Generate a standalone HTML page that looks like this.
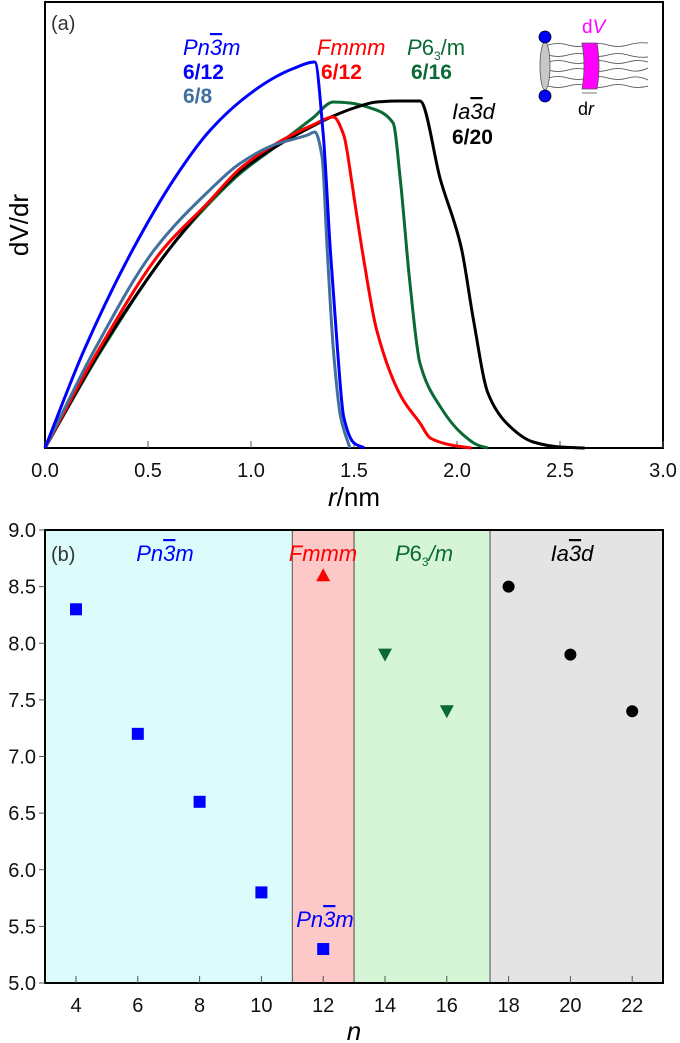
<!DOCTYPE html>
<html><head><meta charset="utf-8"><style>
html,body{margin:0;padding:0;background:#fff;}
svg{display:block;font-family:"Liberation Sans",Arial,sans-serif;}
</style></head><body>
<svg id="fig" width="680" height="1043" viewBox="0 0 680 1043" xmlns="http://www.w3.org/2000/svg">
<g id="panelA"></g>
<g id="panelB"></g>
</svg>
<script>
// ---------- Panel (a) data (r in nm, dV/dr in arbitrary units) ----------
const xTicksA = [0, 0.5, 1.0, 1.5, 2.0, 2.5, 3.0];
const xTickLabelsA = ["0.0","0.5","1.0","1.5","2.0","2.5","3.0"];
const pn3m12R = [0,0.19,0.425,0.63,0.79,0.95,1.11,1.2,1.31,1.35,1.385,1.42,1.45,1.50,1.55];
const pn3m12V = [0,98,198,270,315,347,370,379,386,315,198,98,31,5,0];
const pn3m8R = [0,0.24,0.53,0.79,0.95,1.11,1.275,1.31,1.345,1.37,1.40,1.435,1.48];
const pn3m8V = [0,98,198,256,285,303,313,316,291,198,98,31,0];
const fmmmR = [0,0.26,0.57,0.79,0.95,1.11,1.3,1.40,1.45,1.49,1.50,1.55,1.61,1.73,1.82,1.87,1.97,2.07];
const fmmmV = [0,98,198,245,280,303,323,331,313,265,251,185,118,51,25,10,3,0];
const p63mR = [0,0.275,0.6,0.79,0.95,1.11,1.3,1.40,1.48,1.58,1.69,1.725,1.77,1.82,1.92,2.02,2.10,2.15];
const p63mV = [0,98,198,243,275,300,330,346,345,340,325,268,168,85,41,15,3,0];
const ia3dR = [0,0.27,0.6,0.79,0.95,1.11,1.3,1.4,1.5,1.61,1.72,1.82,1.92,2.02,2.08,2.15,2.24,2.37,2.50,2.62];
const ia3dV = [0,98,198,245,277,300,322,332,340,346,347,347,268,201,128,55,25,6,1,0];

// ---------- Panel (b) data ----------
const xTicksB = [4,6,8,10,12,14,16,18,20,22];
const yTicksB = [5.0,5.5,6.0,6.5,7.0,7.5,8.0,8.5,9.0];
const yTickLabelsB = ["5.0","5.5","6.0","6.5","7.0","7.5","8.0","8.5","9.0"];
const regionStarts = [3, 11, 13, 17.4];
const regionEnds = [11, 13, 17.4, 23.2];
const pn3mN = [4,6,8,10,12];
const pn3mVal = [8.3,7.2,6.6,5.8,5.3];
const fmmmN = [12];
const fmmmVal = [8.6];
const p63N = [14,16];
const p63Val = [7.9,7.4];
const ia3dN = [18,20,22];
const ia3dVal = [8.5,7.9,7.4];

const NS = "http://www.w3.org/2000/svg";
function mk(tag, attrs, parent){ const e=document.createElementNS(NS,tag); for(const k in attrs) e.setAttribute(k,attrs[k]); parent.appendChild(e); return e; }
const A = document.getElementById('panelA');
const B = document.getElementById('panelB');

const ax = { l:45, r:663, t:2, b:448, xmin:0, xmax:3.0 };
const xA = r => ax.l + (r-ax.xmin)/(ax.xmax-ax.xmin)*(ax.r-ax.l);
const yA = v => ax.b - v;

function monoPath(X,Y){
  const n=X.length, d=[], m=new Array(n);
  for(let i=0;i<n-1;i++) d.push((Y[i+1]-Y[i])/(X[i+1]-X[i]));
  m[0]=d[0]; m[n-1]=d[n-2];
  for(let i=1;i<n-1;i++){
    if(d[i-1]*d[i]<=0) m[i]=0;
    else { const w1=2*(X[i+1]-X[i])+(X[i]-X[i-1]), w2=(X[i+1]-X[i])+2*(X[i]-X[i-1]); m[i]=(w1+w2)/(w1/d[i-1]+w2/d[i]); }
  }
  let s='M'+X[0]+','+Y[0];
  for(let i=0;i<n-1;i++){
    const h=(X[i+1]-X[i])/3;
    s+=' C'+(X[i]+h)+','+(Y[i]+m[i]*h)+' '+(X[i+1]-h)+','+(Y[i+1]-m[i+1]*h)+' '+X[i+1]+','+Y[i+1];
  }
  return s;
}

let frameA = mk('rect',{x:ax.l,y:ax.t,width:ax.r-ax.l,height:ax.b-ax.t,fill:'#fff',stroke:'#000','stroke-width':2},A);


xTicksA.forEach((t,i)=>{
  const tk = mk('line',{x1:xA(t),x2:xA(t),y1:ax.b,y2:ax.b-7,stroke:'#555','stroke-width':1},A);
  
  
  const tl = mk('text',{x:xA(t),y:477,'font-size':20,'text-anchor':'middle',fill:'#111'},A);
  tl.textContent = xTickLabelsA[i];
  
  
});
function series(R,V,color,name,w){
  const p = mk('path',{d:monoPath(R.map(xA),V.map(yA)),fill:'none',stroke:color,'stroke-width':w||3,'stroke-linejoin':'round'},A);
  
  
}
series(p63mR,p63mV,'#0a6a35','line-p63m-6-16');
series(ia3dR,ia3dV,'#000','line-ia3d-6-20');
series(fmmmR,fmmmV,'#ff0000','line-fmmm-6-12');
series(pn3m8R,pn3m8V,'#41709e','line-pn3m-6-8');
series(pn3m12R,pn3m12V,'#0000ff','line-pn3m-6-12');
</script>
<script>
(function(){
const A = document.getElementById('panelA');
A.insertAdjacentHTML('beforeend', `
<text x="51" y="30" font-size="20" fill="#333">(a)</text>
<text transform="translate(28,225) rotate(-90)" font-size="26" text-anchor="middle" fill="#000">dV/dr</text>
<text x="354" y="506" font-size="26" text-anchor="middle" fill="#000"><tspan font-style="italic">r</tspan>/nm</text>
<text x="183" y="55" font-size="22" font-style="italic" fill="#0000ff">Pn<tspan text-decoration="overline">3</tspan>m</text>
<text x="183" y="79" font-size="21" font-weight="bold" fill="#0000ff">6/12</text>
<text x="183" y="103" font-size="21" font-weight="bold" fill="#41709e">6/8</text>
<text x="317" y="55" font-size="22" font-style="italic" fill="#ff0000">Fmmm</text>
<text x="321" y="79" font-size="21" font-weight="bold" fill="#ff0000">6/12</text>
<text x="407" y="55" font-size="22" fill="#0a6a35"><tspan font-style="italic">P</tspan>6<tspan font-size="12" dy="5">3</tspan><tspan dy="-5">/m</tspan></text>
<text x="411" y="79" font-size="21" font-weight="bold" fill="#0a6a35">6/16</text>
<text x="452" y="119" font-size="22" font-style="italic" fill="#000">Ia<tspan text-decoration="overline">3</tspan>d</text>
<text x="452" y="144" font-size="21" font-weight="bold" fill="#000">6/20</text>
<g>
  <g fill="none" stroke="#444" stroke-width="0.8">
    <path d="M548,45 q10,-3 20,0 t20,0 t20,0 t20,0 t20,-2"/>
    <path d="M548,55 q10,3 20,0 t20,0 t20,0 t20,0 t20,2"/>
    <path d="M548,62 q10,-3 20,0 t20,0 t20,0 t20,0 t20,0"/>
    <path d="M548,70 q10,3 20,0 t20,0 t20,0 t20,0 t20,-2"/>
    <path d="M548,78 q10,-3 20,0 t20,0 t20,0 t20,0 t20,2"/>
    <path d="M548,86 q10,3 20,0 t20,0 t20,0 t20,0 t20,0"/>
  </g>
  <ellipse cx="545" cy="66" rx="5" ry="24" fill="#c8c8c8" stroke="#555" stroke-width="0.8"/>
  <circle cx="545" cy="37" r="6" fill="#0000ff" stroke="#000" stroke-width="0.8"/>
  <circle cx="545" cy="96" r="6" fill="#0000ff" stroke="#000" stroke-width="0.8"/>
  <path d="M582,43 L597,43 Q601,66 597,89 L582,89 Q586,66 582,43 Z" fill="#ff00ff" stroke="#555" stroke-width="0.8"/>
  <line x1="582" y1="93" x2="597" y2="93" stroke="#555" stroke-width="0.8"/>
  <text x="582" y="33" font-size="19" fill="#ff00ff">d<tspan font-style="italic">V</tspan></text>
  <text x="578" y="115" font-size="18" fill="#000">d<tspan font-style="italic">r</tspan></text>
</g>`);
})();
</script>
<script>
const bx = { l:45, r:663, t:530, b:983 };
const xB = n => 76 + (n-4)*30.9;
const yB = v => bx.b - (v-5)*113.25;
const regionColors = ['#dcfcfc','#fcc8c8','#d6f4d6','#e4e4e4'];
const regionNames = ['region-pn3m','region-fmmm','region-p63m','region-ia3d'];
regionStarts.forEach((s,i)=>{
  const x0 = Math.max(bx.l, xB(s)), x1 = Math.min(bx.r, xB(regionEnds[i]));
  const r = mk('rect',{x:x0,y:bx.t,width:x1-x0,height:bx.b-bx.t,fill:regionColors[i],stroke:i>0?'#555':'none','stroke-width':1},B);
  
  
});
let frameB = mk('rect',{x:bx.l,y:bx.t,width:bx.r-bx.l,height:bx.b-bx.t,fill:'none',stroke:'#000','stroke-width':2},B);


yTicksB.forEach((t,i)=>{
  const tk = mk('line',{x1:bx.l-6,x2:bx.l,y1:yB(t),y2:yB(t),stroke:'#555','stroke-width':1},B);
  
  
  const tl = mk('text',{x:36,y:yB(t)+7,'font-size':20,'text-anchor':'end',fill:'#111'},B);
  tl.textContent = yTickLabelsB[i];
  
  
});
xTicksB.forEach(t=>{
  const tk = mk('line',{x1:xB(t),x2:xB(t),y1:bx.b,y2:bx.b-7,stroke:'#555','stroke-width':1},B);
  
  
  const tl = mk('text',{x:xB(t),y:1012,'font-size':20,'text-anchor':'middle',fill:'#111'},B);
  tl.textContent = String(t);
  
  
});
pn3mN.forEach((n,i)=>{
  const m = mk('rect',{x:xB(n)-6,y:yB(pn3mVal[i])-6,width:12,height:12,fill:'#0000ff'},B);
  
  
});
fmmmN.forEach((n,i)=>{
  const x=xB(n), y=yB(fmmmVal[i]);
  const m = mk('polygon',{points:`${x},${y-7} ${x-7},${y+6} ${x+7},${y+6}`,fill:'#ff0000'},B);
  
  
});
p63N.forEach((n,i)=>{
  const x=xB(n), y=yB(p63Val[i]);
  const m = mk('polygon',{points:`${x-7},${y-6} ${x+7},${y-6} ${x},${y+7}`,fill:'#0a6a35'},B);
  
  
});
ia3dN.forEach((n,i)=>{
  const m = mk('circle',{cx:xB(n),cy:yB(ia3dVal[i]),r:6,fill:'#000'},B);
  
  
});
B.insertAdjacentHTML('beforeend', `
<text x="51" y="561" font-size="20" fill="#333">(b)</text>
<text x="165" y="561" font-size="22" font-style="italic" text-anchor="middle" fill="#0000ff">Pn<tspan text-decoration="overline">3</tspan>m</text>
<text x="323" y="561" font-size="22" font-style="italic" text-anchor="middle" fill="#ff0000">Fmmm</text>
<text x="424" y="561" font-size="22" text-anchor="middle" fill="#0a6a35"><tspan font-style="italic">P</tspan>6<tspan font-size="12" dy="5">3</tspan><tspan dy="-5" font-style="italic">/m</tspan></text>
<text x="572" y="561" font-size="22" font-style="italic" text-anchor="middle" fill="#000">Ia<tspan text-decoration="overline">3</tspan>d</text>
<text x="325" y="927" font-size="22" font-style="italic" text-anchor="middle" fill="#0000ff">Pn<tspan text-decoration="overline">3</tspan>m</text>
<text x="354" y="1040" font-size="26" font-style="italic" text-anchor="middle" fill="#000">n</text>
`);
</script>
</body></html>
